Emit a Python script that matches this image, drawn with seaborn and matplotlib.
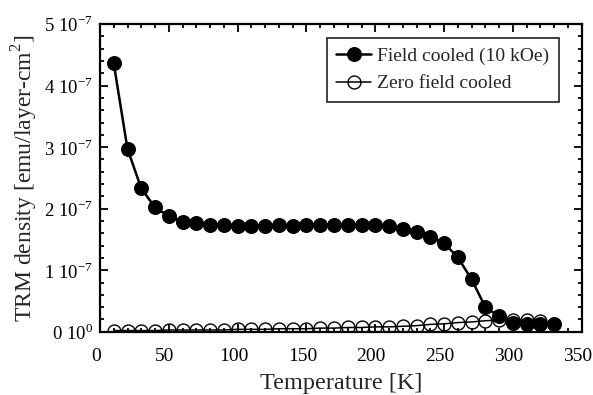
import matplotlib
matplotlib.use("Agg")
import matplotlib.pyplot as plt
import matplotlib.transforms as mtransforms
import seaborn as sns
import numpy as np
import pandas as pd
from matplotlib.ticker import MultipleLocator, FixedLocator

# ---- data ----
temp_fc = [10, 20, 30, 40, 50, 60, 70, 80, 90, 100, 110, 120, 130, 140, 150, 160,
           170, 180, 190, 200, 210, 220, 230, 240, 250, 260, 270, 280, 290, 300,
           310, 320, 330]
trm_fc = [4.36, 2.97, 2.33, 2.02, 1.88, 1.79, 1.76, 1.74, 1.73, 1.72, 1.72, 1.72,
          1.73, 1.72, 1.73, 1.73, 1.73, 1.73, 1.73, 1.73, 1.72, 1.67, 1.62, 1.54,
          1.44, 1.21, 0.85, 0.40, 0.25, 0.15, 0.13, 0.13, 0.12]  # units 1e-7
temp_zfc = [10, 20, 30, 40, 50, 60, 70, 80, 90, 100, 110, 120, 130, 140, 150, 160,
            170, 180, 190, 200, 210, 220, 230, 240, 250, 260, 270, 280, 290, 300,
            310, 320]
trm_zfc = [0.02, 0.02, 0.02, 0.02, 0.03, 0.03, 0.03, 0.03, 0.03, 0.04, 0.04, 0.04,
           0.05, 0.05, 0.05, 0.06, 0.06, 0.07, 0.07, 0.08, 0.08, 0.09, 0.10, 0.12,
           0.13, 0.15, 0.16, 0.18, 0.19, 0.19, 0.19, 0.18]
label_fc = "Field cooled (10 kOe)"
label_zfc = "Zero field cooled"
y_ticks = [0, 1, 2, 3, 4, 5]
y_ticklabels = [r"0 10$^{0}$", r"1 10$^{-7}$", r"2 10$^{-7}$", r"3 10$^{-7}$",
                r"4 10$^{-7}$", r"5 10$^{-7}$"]
x_ticks = [0, 50, 100, 150, 200, 250, 300, 350]

sns.set_style("ticks")
plt.rcParams['font.family'] = ['Liberation Serif', 'DejaVu Serif']
plt.rcParams['mathtext.fontset'] = 'custom'
plt.rcParams['mathtext.rm'] = 'Liberation Serif'

fig = plt.figure(figsize=(5.93, 3.95), dpi=100)
ax = fig.add_axes([0.1686, 0.160, 0.8124, 0.779])

df_fc = pd.DataFrame({"T": temp_fc, "M": trm_fc})
df_zfc = pd.DataFrame({"T": temp_zfc, "M": trm_zfc})

sns.lineplot(data=df_zfc, x="T", y="M", ax=ax, color="black", lw=1.1,
             marker="o", markersize=9.3, markerfacecolor="none",
             markeredgecolor="black", markeredgewidth=1.0, label=label_zfc,
             zorder=2)
sns.lineplot(data=df_fc, x="T", y="M", ax=ax, color="black", lw=1.8,
             marker="o", markersize=10, markerfacecolor="black",
             markeredgecolor="black", label=label_fc, zorder=3)

ax.set_xlim(0, 350)
ax.set_ylim(0, 5)
ax.xaxis.set_major_locator(FixedLocator(x_ticks))
ax.xaxis.set_minor_locator(MultipleLocator(10))
ax.yaxis.set_major_locator(FixedLocator(y_ticks))
ax.yaxis.set_minor_locator(MultipleLocator(0.2))
ax.set_yticklabels(y_ticklabels)
ax.tick_params(which="both", direction="in", top=True, right=True,
               width=1.3, colors="black")
ax.tick_params(axis="x", labelsize=14, pad=12)
ax.tick_params(axis="y", labelsize=13.5, pad=5)
ax.tick_params(which="major", length=6)
ax.tick_params(which="minor", length=3)
for s in ax.spines.values():
    s.set_linewidth(1.6)
    s.set_color("black")

# shift x tick labels slightly left, as in the reference
offset = mtransforms.ScaledTranslation(-4 / 100, 0, fig.dpi_scale_trans)
for lab in ax.get_xticklabels():
    lab.set_transform(lab.get_transform() + offset)

ax.set_xlabel("Temperature [K]", fontsize=17.5, labelpad=5.5)
ax.set_ylabel(r"TRM density [emu/layer-cm$^{2}$]", fontsize=17, labelpad=3)

h, l = ax.get_legend_handles_labels()
leg = ax.legend(h[::-1], l[::-1], loc="upper right", bbox_to_anchor=(0.953, 0.956),
                fontsize=14, frameon=True, fancybox=False, edgecolor="black",
                handlelength=1.8, borderpad=0.5, labelspacing=0.5,
                handletextpad=0.3, borderaxespad=0)
leg.get_frame().set_linewidth(1.3)

fig.savefig("out.png", dpi=100)
